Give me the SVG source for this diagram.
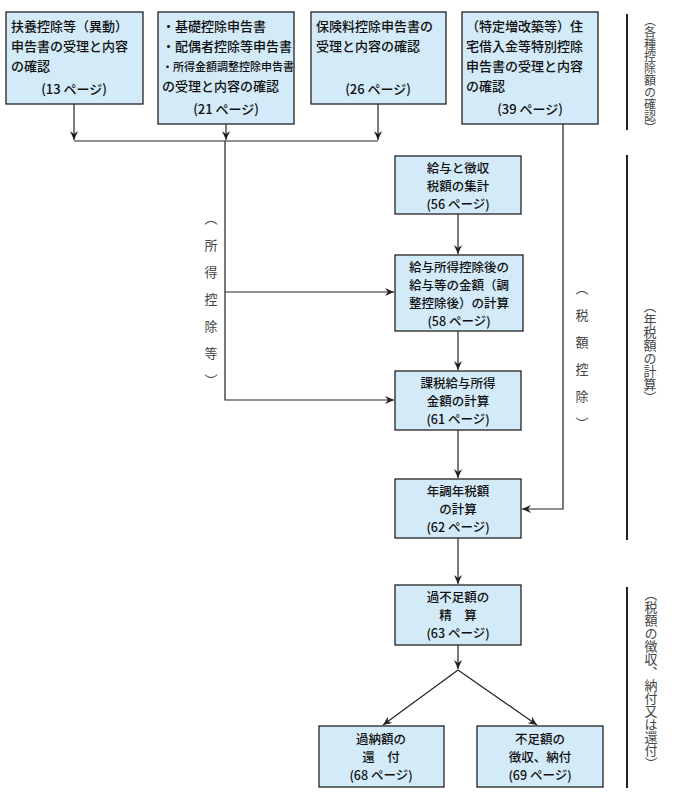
<svg xmlns="http://www.w3.org/2000/svg" width="681" height="798" viewBox="0 0 681 798">
<defs>
<marker id="ah" markerWidth="10" markerHeight="8" refX="9" refY="4" orient="auto" markerUnits="userSpaceOnUse"><path d="M0,0 L9,4 L0,8 L3,4 Z" fill="#222"/></marker>
<style>
.box{fill:#d3eaf8;stroke:#222;stroke-width:1.3}
.t{font-family:"Noto Sans CJK JP","Noto Sans",sans-serif;font-size:13px;fill:#111;font-weight:500}
.s{font-size:11px}
.c{text-anchor:middle}
.m{font-size:12.5px}
.ln{fill:none;stroke:#222;stroke-width:1.2}
.v{font-family:"Noto Sans CJK JP",sans-serif;font-size:13px;fill:#444;writing-mode:vertical-rl}
.br{fill:none;stroke:#222;stroke-width:2}
</style>
</defs>
<g id="n1"><rect class="box" x="6" y="12" width="137" height="92"/>
<text class="t" x="11" y="31">扶養控除等（異動）</text><text class="t" x="11" y="51">申告書の受理と内容</text><text class="t" x="11" y="71">の確認</text><text class="t c" x="74" y="94">(13 ページ)</text></g>
<g id="n2"><rect class="box" x="158" y="12" width="136" height="112"/>
<text class="t" x="162" y="31">・基礎控除申告書</text><text class="t" x="162" y="51">・配偶者控除等申告書</text><text class="t s" x="162" y="71">・所得金額調整控除申告書</text><text class="t" x="162" y="91">の受理と内容の確認</text><text class="t c" x="226" y="114">(21 ページ)</text></g>
<g id="n3"><rect class="box" x="311" y="12" width="135" height="92"/>
<text class="t" x="316" y="31">保険料控除申告書の</text><text class="t" x="316" y="51">受理と内容の確認</text><text class="t c" x="378" y="94">(26 ページ)</text></g>
<g id="n4"><rect class="box" x="462" y="12" width="136" height="112"/>
<text class="t" x="466" y="31">（特定増改築等）住</text><text class="t" x="466" y="51">宅借入金等特別控除</text><text class="t" x="466" y="71">申告書の受理と内容</text><text class="t" x="466" y="91">の確認</text><text class="t c" x="530" y="114">(39 ページ)</text></g>
<g id="n56"><rect class="box" x="395" y="156" width="126" height="58"/>
<text class="t c m" x="458" y="173">給与と徴収</text><text class="t c m" x="458" y="191">税額の集計</text><text class="t c m" x="458" y="209">(56 ページ)</text></g>
<g id="n58"><rect class="box" x="395" y="255" width="128" height="76"/>
<text class="t c m" x="459" y="272">給与所得控除後の</text><text class="t c m" x="459" y="290">給与等の金額（調</text><text class="t c m" x="459" y="308">整控除後）の計算</text><text class="t c m" x="459" y="326">(58 ページ)</text></g>
<g id="n61"><rect class="box" x="395" y="371" width="126" height="59"/>
<text class="t c m" x="458" y="388">課税給与所得</text><text class="t c m" x="458" y="406">金額の計算</text><text class="t c m" x="458" y="424">(61 ページ)</text></g>
<g id="n62"><rect class="box" x="395" y="479" width="126" height="59"/>
<text class="t c m" x="458" y="496">年調年税額</text><text class="t c m" x="458" y="514">の計算</text><text class="t c m" x="458" y="532">(62 ページ)</text></g>
<g id="n63"><rect class="box" x="395" y="585" width="126" height="60"/>
<text class="t c m" x="458" y="602">過不足額の</text><text class="t c m" x="458" y="620">精　算</text><text class="t c m" x="458" y="638">(63 ページ)</text></g>
<g id="n68"><rect class="box" x="319" y="726" width="125" height="61"/>
<text class="t c m" x="381" y="744">過納額の</text><text class="t c m" x="381" y="762">還　付</text><text class="t c m" x="381" y="780">(68 ページ)</text></g>
<g id="n69"><rect class="box" x="477" y="726" width="126" height="61"/>
<text class="t c m" x="540" y="744">不足額の</text><text class="t c m" x="540" y="762">徴収、納付</text><text class="t c m" x="540" y="780">(69 ページ)</text></g>
<g id="connectors">
<path class="ln" d="M74,104 V140" marker-end="url(#ah)"/>
<path class="ln" d="M226,124 V140" marker-end="url(#ah)"/>
<path class="ln" d="M378,104 V140" marker-end="url(#ah)"/>
<path class="ln" d="M74,141 H378"/>
<path class="ln" d="M225,141 V400 H394" marker-end="url(#ah)"/>
<path class="ln" d="M225,292 H394" marker-end="url(#ah)"/>
<path class="ln" d="M563,124 V509 H522" marker-end="url(#ah)"/>
<path class="ln" d="M458,214 V254" marker-end="url(#ah)"/>
<path class="ln" d="M458,331 V370" marker-end="url(#ah)"/>
<path class="ln" d="M458,430 V478" marker-end="url(#ah)"/>
<path class="ln" d="M458,538 V584" marker-end="url(#ah)"/>
<path class="ln" d="M458,645 V669" marker-end="url(#ah)"/>
<path class="ln" d="M458,670 L383,725" marker-end="url(#ah)"/>
<path class="ln" d="M458,670 L537,725" marker-end="url(#ah)"/>
</g>
<g id="labels">
<text class="v" x="211" y="212" style="letter-spacing:14px">（所得控除等）</text>
<text class="v" x="582" y="282" style="letter-spacing:14px">（税額控除）</text>
<path class="br" d="M627,14 V130"/>
<text class="v" x="650" y="14" style="font-size:12px">（各種控除額の確認）</text>
<path class="br" d="M627,155 V540"/>
<text class="v" x="650" y="300">（年税額の計算）</text>
<path class="br" d="M627,587 V788"/>
<text class="v" x="651" y="588">（税額の徴収、納付又は還付）</text>
</g>
</svg>
